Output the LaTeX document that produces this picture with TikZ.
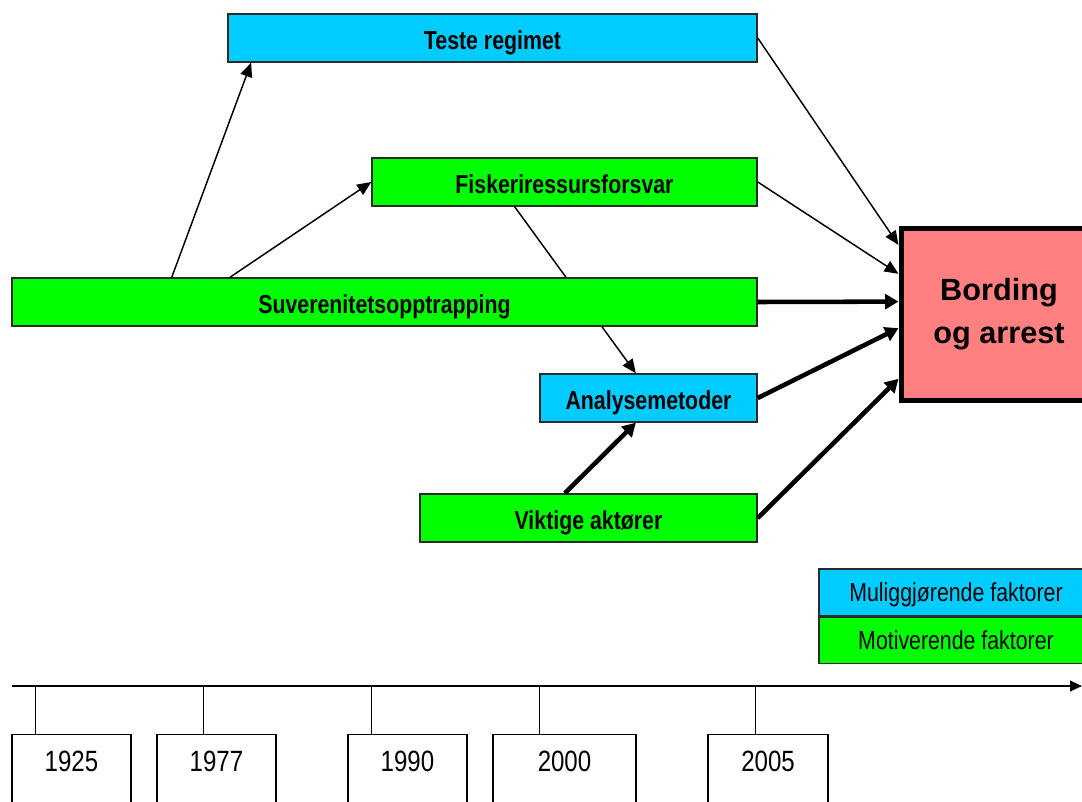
\documentclass[tikz,border=0pt]{standalone}
\usepackage{fontspec}
\setmainfont{Liberation Sans}
\newfontfamily\narrowfont[FakeStretch=0.82]{Liberation Sans}
\usetikzlibrary{arrows.meta,calc}
\newdimen\px \px=0.75pt
\definecolor{enab}{HTML}{00CCFF}
\definecolor{motiv}{HTML}{00FF00}
\definecolor{goal}{HTML}{FF8080}
\definecolor{edge}{HTML}{2A2A2A}
\begin{document}
\begin{tikzpicture}[x=0.75pt,y=-0.75pt,
  factor/.style={draw=edge,line width=1.1pt,inner sep=0pt,minimum height=48\px,
    text height=19pt,text depth=2pt,
    font=\narrowfont\bfseries\fontsize{19.5}{22}\selectfont},
  enabling/.style={factor,fill=enab},
  motivating/.style={factor,fill=motiv},
  goalbox/.style={draw=black,line width=3.75pt,fill=goal,inner sep=0pt,align=center,
    font=\bfseries\fontsize{23}{32}\selectfont},
  legendbox/.style={draw=edge,line width=1.1pt,inner sep=0pt,
    text height=17pt,text depth=3pt,
    font=\narrowfont\fontsize{19.5}{22}\selectfont},
  yearbox/.style={draw=black,line width=1.1pt,inner sep=0pt,anchor=north,
    text height=37\px,text depth=60\px,font=\narrowfont\fontsize{22}{24}\selectfont},
  thinarrow/.style={line width=1.1pt,-{Triangle[length=10.5pt,width=9pt]}},
  thickarrow/.style={line width=3.4pt,-{Triangle[length=10pt,width=11pt]}},
  tick/.style={line width=1.1pt},
  timeline/.style={line width=1.5pt,-{Triangle[length=9pt,width=8pt]}}]
\clip (0,0) rectangle (1082,801);
\fill[white] (0,0) rectangle (1082,801);

% factor boxes
\node[enabling,minimum width=529\px] (teste) at (492.5,38) {Teste regimet};
\node[motivating,minimum width=385\px] (fisk) at (564.5,182) {Fiskeriressursforsvar};
\node[enabling,minimum width=217\px] (ana) at (648.5,398) {Analysemetoder};
\node[motivating,minimum width=337\px] (vik) at (588.5,518) {Viktige aktører};

% line passing behind the sovereignty box
\draw[thinarrow] ($(fisk.south west)!0.371!(fisk.south east)$) -- ($(ana.north west)!0.442!(ana.north east)$);

\node[motivating,minimum width=745\px] (sov) at (384.5,302) {Suverenitetsopptrapping};

\node[goalbox,minimum width=196\px,minimum height=172\px] (bord) at (999,314) {Bording\\og arrest\rule[-3pt]{0pt}{3pt}};

% arrows
\draw[thinarrow] ($(sov.north west)!0.215!(sov.north east)$) -- ($(teste.south west)!0.045!(teste.south east)$);
\draw[thinarrow] ($(sov.north west)!0.293!(sov.north east)$) -- (fisk.west);
\draw[thinarrow] (teste.east) -- ($(bord.north west)!0.11!(bord.south west)$);
\draw[thinarrow] (fisk.east) -- ($(bord.north west)!0.273!(bord.south west)$);
\draw[thickarrow] (sov.east) -- ($(bord.north west)!0.43!(bord.south west)$);
\draw[thickarrow] (ana.east) -- ($(bord.north west)!0.58!(bord.south west)$);
\draw[thickarrow] (vik.east) -- ($(bord.north west)!0.866!(bord.south west)$);
\draw[thickarrow] ($(vik.north west)!0.43!(vik.north east)$) -- ($(ana.south west)!0.442!(ana.south east)$);

% legend
\node[legendbox,fill=enab,minimum width=274\px,minimum height=47\px] (leg1) at (956,592.5) {Muliggjørende faktorer};
\node[legendbox,fill=motiv,minimum width=274\px,minimum height=46\px,anchor=north] (leg2) at (leg1.south) {Motiverende faktorer};

% timeline
\coordinate (tls) at (12,686);
\coordinate (tle) at (1082,686);
\draw[timeline] (tls) -- (tle);
\node[yearbox,minimum width=119\px] (y1) at (71.5,734) {1925};
\node[yearbox,minimum width=119\px] (y2) at (216.5,734) {1977};
\node[yearbox,minimum width=119\px] (y3) at (407.5,734) {1990};
\node[yearbox,minimum width=143\px] (y4) at (564.5,734) {2000};
\node[yearbox,minimum width=120\px] (y5) at (768,734) {2005};
\draw[tick] ([xshift=24\px]y1.north west) -- ([xshift=24\px]y1.north west |- tls);
\draw[tick] ([xshift=47\px]y2.north west) -- ([xshift=47\px]y2.north west |- tls);
\draw[tick] ([xshift=24\px]y3.north west) -- ([xshift=24\px]y3.north west |- tls);
\draw[tick] ([xshift=47\px]y4.north west) -- ([xshift=47\px]y4.north west |- tls);
\draw[tick] ([xshift=48\px]y5.north west) -- ([xshift=48\px]y5.north west |- tls);
\end{tikzpicture}
\end{document}
